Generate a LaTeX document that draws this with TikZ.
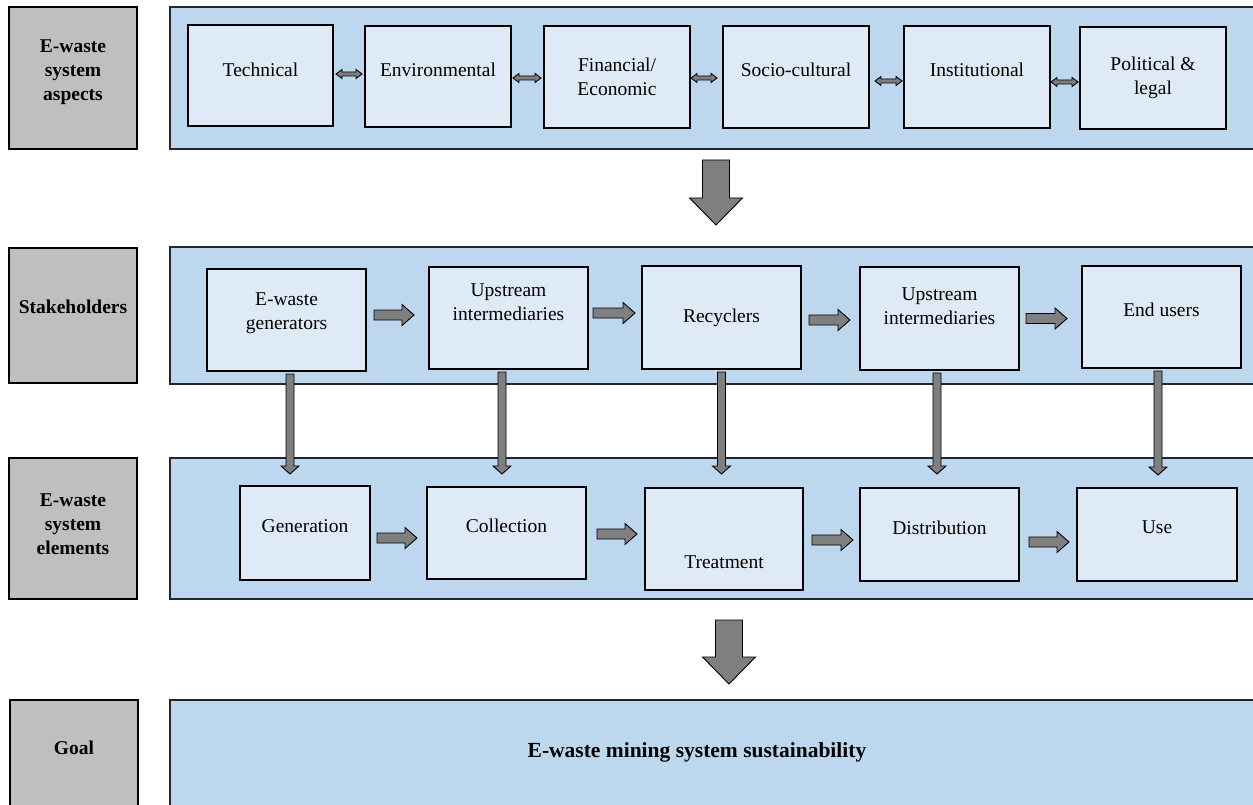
\documentclass[tikz,border=0pt]{standalone}
\usepackage{fontspec}
\setmainfont{Liberation Serif}
\usetikzlibrary{calc}
\definecolor{greybox}{HTML}{BFBFBF}
\definecolor{panelblue}{HTML}{BDD7EE}
\definecolor{innerblue}{HTML}{DEEAF6}
\definecolor{arrowgrey}{HTML}{7F7F7F}
\begin{document}
\begin{tikzpicture}[x=1pt,y=-1pt,
  every node/.style={font=\fontsize{19.5}{24}\selectfont, align=center, inner sep=0pt, outer sep=0pt},
  side/.style={draw=black, line width=1.4pt, fill=greybox, minimum width=128pt},
  panelbox/.style={draw=black!85, line width=1.4pt, fill=panelblue, minimum width=1086pt},
  ibox/.style={draw=black, line width=1.3pt, fill=innerblue},
  blbl/.style={font=\fontsize{19.5}{24}\selectfont\bfseries},
  arr/.style={draw=black, line width=0.9pt, fill=arrowgrey},
  dblarr/.style={arr, to path={let \p1=(\tikztostart), \p2=(\tikztotarget) in
    (\x1,\y1) -- (\x1+6pt,\y1+4.5pt) -- (\x1+6pt,\y1+2pt) -- (\x2-6pt,\y1+2pt) -- (\x2-6pt,\y1+4.5pt)
    -- (\x2,\y1) -- (\x2-6pt,\y1-4.5pt) -- (\x2-6pt,\y1-2pt) -- (\x1+6pt,\y1-2pt) -- (\x1+6pt,\y1-4.5pt) -- cycle}},
  harr/.style={arr, to path={let \p1=(\tikztostart), \p2=(\tikztotarget) in
    (\x1,\y1+5pt) -- (\x2-12pt,\y1+5pt) -- (\x2-12pt,\y1+10.5pt) -- (\x2,\y1)
    -- (\x2-12pt,\y1-10.5pt) -- (\x2-12pt,\y1-5pt) -- (\x1,\y1-5pt) -- cycle}},
  varr/.style={arr, to path={let \p1=(\tikztostart), \p2=(\tikztotarget) in
    (\x1-4pt,\y1) -- (\x1-4pt,\y2+8pt) -- (\x1-9pt,\y2+8pt) -- (\x1,\y2)
    -- (\x1+9pt,\y2+8pt) -- (\x1+4pt,\y2+8pt) -- (\x1+4pt,\y1) -- cycle}},
  bigarr/.style={arr, to path={let \p1=(\tikztostart), \p2=(\tikztotarget) in
    (\x1-13.5pt,\y1) -- (\x1-13.5pt,\y2+27pt) -- (\x1-26.5pt,\y2+27pt) -- (\x1,\y2)
    -- (\x1+26.5pt,\y2+27pt) -- (\x1+13.5pt,\y2+27pt) -- (\x1+13.5pt,\y1) -- cycle}}
]
\useasboundingbox (0,0) rectangle (1253,805);
\fill[white] (0,0) rectangle (1253,805);

% left labels
\node[side, minimum height=142pt] (g1) at (73,78) {};
\node[side, minimum height=135pt] (g2) at (73,315.5) {};
\node[side, minimum height=141pt] (g3) at (73,528.5) {};
\node[side, minimum height=112pt] (g4) at (74,756) {};
\node[blbl] (g1t) at ([yshift=6]g1.center) {E-waste\\system\\aspects};
\node[blbl] (g2t) at ([yshift=8.5]g2.center) {Stakeholders};
\node[blbl] (g3t) at ([yshift=4.5]g3.center) {E-waste\\system\\elements};
\node[blbl] (g4t) at (74,748) {Goal};

% panels
\node[panelbox, minimum height=142pt] (p1) at (713,78) {};
\node[panelbox, minimum height=137pt] (p2) at (713,315.5) {};
\node[panelbox, minimum height=141pt] (p3) at (713,528.5) {};
\node[panelbox, minimum height=112pt] (p4) at (713,756) {};
\node[blbl, font=\fontsize{21.5}{26}\selectfont\bfseries] (p4t) at (697,752) {E-waste mining system sustainability};

% row 1: aspects
\node[ibox, minimum width=145pt, minimum height=101pt] (tech) at (260.5,75.5) {};
\node[ibox, minimum width=146pt, minimum height=101pt] (env) at (438,76.5) {};
\node[ibox, minimum width=146pt, minimum height=102pt] (fin) at (617,77) {};
\node[ibox, minimum width=146pt, minimum height=102pt] (soc) at (796,77) {};
\node[ibox, minimum width=146pt, minimum height=102pt] (inst) at (977,77) {};
\node[ibox, minimum width=146pt, minimum height=102pt] (pol) at (1153,78) {};
\node (techt) at ([yshift=6]tech.center) {Technical};
\node (envt) at ([yshift=6.5]env.center) {Environmental};
\node (fint) at (fin.center) {Financial/\\Economic};
\node (soct) at ([yshift=7]soc.center) {Socio-cultural};
\node (instt) at ([yshift=7]inst.center) {Institutional};
\node (polt) at (pol.center) {Political \&\\legal};

\draw[dblarr] ([xshift=3,yshift=1.5]tech.east) to ([xshift=-3]env.west);
\draw[dblarr] ([xshift=2,yshift=-1.5]env.east) to ([xshift=-3]fin.west);
\draw[dblarr] ([xshift=1,yshift=-1]fin.east) to ([xshift=-6]soc.west);
\draw[dblarr] ([xshift=6,yshift=-4]soc.east) to ([xshift=-2]inst.west);
\draw[dblarr] ([xshift=1,yshift=-5]inst.east) to ([xshift=-2]pol.west);

\draw[bigarr] ([xshift=3,yshift=-11]p1.south) to ([xshift=3,yshift=22]p2.north);

% row 2: stakeholders
\node[ibox, minimum width=159pt, minimum height=102pt] (gen) at (286.5,320) {};
\node[ibox, minimum width=159pt, minimum height=102pt] (up1) at (508.5,318) {};
\node[ibox, minimum width=159pt, minimum height=103pt] (rec) at (721.5,317.5) {};
\node[ibox, minimum width=159pt, minimum height=103pt] (up2) at (939.5,318.5) {};
\node[ibox, minimum width=159pt, minimum height=102pt] (endu) at (1161.5,317) {};
\node (gent) at ([yshift=6.5]gen.center) {E-waste\\generators};
\node (up1t) at ([yshift=16]up1.center) {Upstream\\intermediaries};
\node (rect) at (rec.center) {Recyclers};
\node (up2t) at ([yshift=12.5]up2.center) {Upstream\\intermediaries};
\node (endut) at ([yshift=7]endu.center) {End users};

\draw[harr] ([xshift=8,yshift=5]gen.east) to ([xshift=-15]up1.west);
\draw[harr] ([xshift=5,yshift=5]up1.east) to ([xshift=-7]rec.west);
\draw[harr] ([xshift=8,yshift=-2.5]rec.east) to ([xshift=-10]up2.west);
\draw[harr] ([xshift=7]up2.east) to ([xshift=-15]endu.west);

% row 3: elements
\node[ibox, minimum width=130pt, minimum height=94pt] (gene) at (305,533) {};
\node[ibox, minimum width=159pt, minimum height=92pt] (coll) at (506.5,533) {};
\node[ibox, minimum width=158pt, minimum height=102pt] (treat) at (724,539) {};
\node[ibox, minimum width=159pt, minimum height=93pt] (dist) at (939.5,534.5) {};
\node[ibox, minimum width=160pt, minimum height=93pt] (use) at (1157,534.5) {};
\node (genet) at ([yshift=7]gene.center) {Generation};
\node (collt) at ([yshift=7]coll.center) {Collection};
\node (treatt) at ([yshift=-23]treat.center) {Treatment};
\node (distt) at ([yshift=6.5]dist.center) {Distribution};
\node (uset) at ([yshift=7.5]use.center) {Use};

\draw[harr] ([xshift=7,yshift=-5]gene.east) to ([xshift=-10]coll.west);
\draw[harr] ([xshift=11,yshift=-1]coll.east) to ([xshift=-8]treat.west);
\draw[harr] ([xshift=9,yshift=-1]treat.east) to ([xshift=-7]dist.west);
\draw[harr] ([xshift=10,yshift=-7.5]dist.east) to ([xshift=-8]use.west);

% vertical arrows stakeholders -> elements
\draw[varr] ([xshift=3.5,yshift=-3]gen.south) to ([yshift=12]gene.north);
\draw[varr] ([xshift=-6.5,yshift=-3]up1.south) to ([yshift=13]coll.north);
\draw[varr] ([yshift=-3]rec.south) to ([yshift=14]treat.north);
\draw[varr] ([xshift=-2.5,yshift=-3]up2.south) to ([yshift=14]dist.north);
\draw[varr] ([xshift=-3.5,yshift=-3]endu.south) to ([yshift=13]use.north);

\draw[bigarr] ([xshift=16,yshift=-21]p3.south) to ([xshift=16,yshift=16]p4.north);
\end{tikzpicture}
\end{document}
